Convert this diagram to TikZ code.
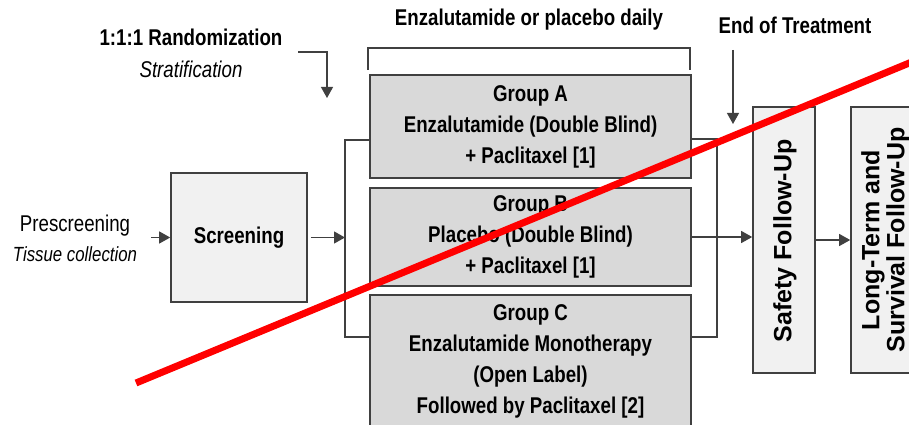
\documentclass[tikz,border=0pt]{standalone}
\usepackage{fontspec}
\setmainfont{Liberation Sans}[FakeStretch=0.82]
\newfontfamily\widefont{Liberation Sans}
\usetikzlibrary{arrows.meta}
\definecolor{bordc}{HTML}{404040}
\definecolor{grpfill}{HTML}{D9D9D9}
\definecolor{litefill}{HTML}{F1F1F1}
\begin{document}
\begin{tikzpicture}[x=1pt,y=-1pt,
  box/.style={draw=bordc, line width=1.6pt, inner sep=0pt, align=center,
    font=\bfseries\fontsize{22.8}{31}\selectfont},
  grp/.style={box, fill=grpfill},
  lite/.style={box, fill=litefill},
  conn/.style={draw=bordc, line width=1.2pt},
  arr/.style={conn, -{Triangle[length=11pt,width=12pt]}},
  lbl/.style={inner sep=0pt, align=center, font=\fontsize{22.8}{31}\selectfont},
  vlbl/.style={inner sep=0pt, align=center, rotate=90,
    font=\widefont\bfseries\fontsize{25}{25}\selectfont},
  redline/.style={draw=red, line width=7pt}]
\useasboundingbox (0,0) rectangle (909,425);
\clip (0,0) rectangle (909,425);

% top labels
\node[lbl] (rand) at (191,53) {{\bfseries 1:1:1 Randomization}\\[1pt]{\itshape Stratification}};
\node[lbl, font=\bfseries\fontsize{22.8}{31}\selectfont] (daily) at (529,20) {Enzalutamide or placebo daily};
\node[lbl, font=\bfseries\fontsize{22.8}{31}\selectfont] (eot) at (795,25) {End of Treatment};

% left
\node[lbl, font=\fontsize{22.8}{30}\selectfont] (pre) at (75,238) {Prescreening\\{\itshape\fontsize{20.5}{30}\selectfont Tissue collection}};
\node[lite, minimum width=136pt, minimum height=129pt] (scr) at (239,237.5) {Screening};

% groups
\node[grp, minimum width=321pt, minimum height=103pt] (ga) at (530.5,126.5)
  {Group A\\Enzalutamide (Double Blind)\\+ Paclitaxel [1]};
\node[grp, minimum width=321pt, minimum height=98pt] (gb) at (530.5,237)
  {Group B\\Placebo (Double Blind)\\+ Paclitaxel [1]};
\node[grp, minimum width=321pt, minimum height=133pt] (gc) at (530.5,361.5)
  {Group C\\Enzalutamide Monotherapy\\(Open Label)\\Followed by Paclitaxel [2]};

% follow-up boxes
\node[lite, minimum width=62pt, minimum height=266pt] (saf) at (784,240) {};
\node[vlbl] (saft) at (785,241) {Safety Follow-Up};
\node[lite, minimum width=69pt, minimum height=266pt] (ltf) at (885.5,240) {};
\node[vlbl] (ltft) at (885.5,240) {Long-Term and\\Survival Follow-Up};

% coordinates
\coordinate (r1) at (298,52);
\coordinate (r2) at (327,98);
\coordinate (e1) at (733,50);
\coordinate (e2) at (733,124);
\coordinate (lt) at (345,140);
\coordinate (lb) at (345,337);
\coordinate (rt) at (717,139);
\coordinate (rb) at (717,337);
\coordinate (bl) at (368,70);
\coordinate (br) at (690,48);

% bracket
\draw[conn] (bl) -- (bl |- br) -- (br) -- (br |- bl);

% arrows
\draw[arr] (r1) -- (r1 -| r2) -- (r2);
\draw[arr] (e1) -- (e2);
\draw[arr] ([xshift=-19pt]scr.west) -- (scr.west);
\draw[arr] ([xshift=3pt]scr.east) -- (scr.east -| lt);
\draw[conn] (ga.west |- lt) -- (lt) -- (lb) -- (gc.west |- lb);
\draw[conn] (ga.east |- rt) -- (rt) -- (rb) -- (gc.east |- rb);
\draw[arr] (gb.east) -- (gb.east -| saf.west);
\draw[arr] (saf.east) -- (ltf.west);

% red strike line
\draw[redline] (136,383) -- (960,42);
\end{tikzpicture}
\end{document}
